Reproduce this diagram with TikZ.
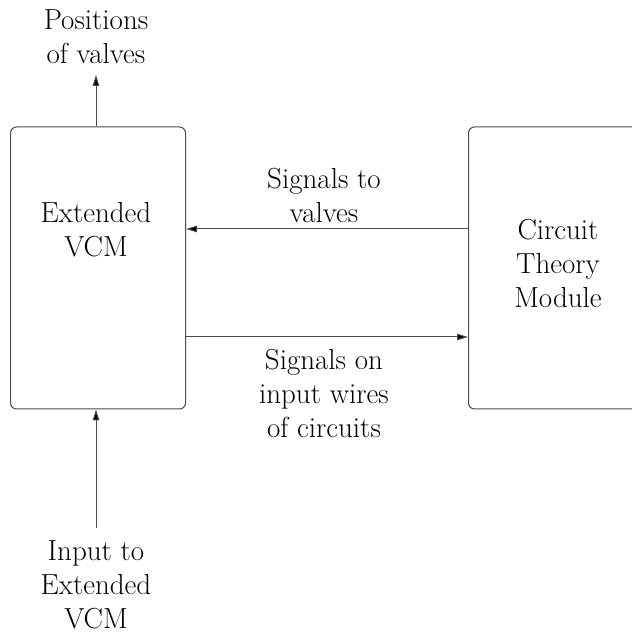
\documentclass[tikz,border=0pt]{standalone}
\usepackage{fontspec}
\usetikzlibrary{arrows.meta}
\begin{document}
\begin{tikzpicture}[x=1pt,y=1pt,
  box/.style={draw=black!70,line width=1pt,rounded corners=6pt,inner sep=0pt},
  lbl/.style={align=center,inner sep=0pt,font=\rmfamily\fontsize{29}{34}\selectfont},
  arr/.style={draw=black!70,line width=1pt,-{Triangle[length=11pt,width=6.5pt,fill=black]}}]
\useasboundingbox (0,0) rectangle (632,633);
\clip (0,0) rectangle (632,633);
\node[box,minimum width=175pt,minimum height=282pt] (lbox) at (98,365) {};
\node[box,minimum width=180pt,minimum height=282pt,anchor=west] (rbox) at (468,365) {};
\node[lbl] (ltext) at (96,403) {Extended\\VCM};
\node[lbl] (rtext) at (558,370) {Circuit\\Theory\\Module};
\node[lbl] (ptext) at (96,596) {Positions\\of valves};
\node[lbl] (itext) at (96,48) {Input to\\Extended\\VCM};
\node[lbl] (stext) at (324,438) {Signals to\\valves};
\node[lbl] (otext) at (324,240) {Signals on\\input wires\\of circuits};
\coordinate (ptop) at (96,558);
\coordinate (ibot) at (96,105);
\coordinate (ya) at (0,404);
\coordinate (yb) at (0,296);
\draw[arr] (lbox.north -| ptop) -- (ptop);
\draw[arr] (ibot) -- (lbox.south -| ibot);
\draw[arr] (rbox.west |- ya) -- (lbox.east |- ya);
\draw[arr] (lbox.east |- yb) -- (rbox.west |- yb);
\end{tikzpicture}
\end{document}
